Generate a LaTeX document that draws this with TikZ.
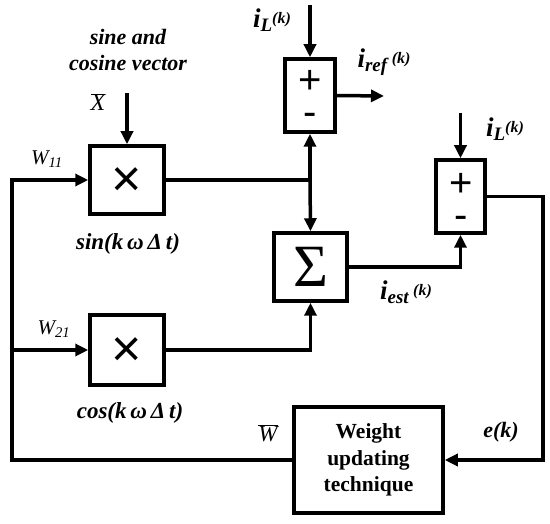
\documentclass[tikz,border=0pt]{standalone}
\usepackage{fontspec}
\setmainfont{Liberation Serif}
\newfontfamily\sansf{Liberation Sans}
\usetikzlibrary{arrows.meta}
\tikzset{
  blk/.style={draw, line width=3.5pt, rectangle, inner sep=0pt},
  wire/.style={line width=3.5pt},
  arr/.style={line width=3.5pt, -{Triangle[length=13pt,width=12pt]}},
  lbl/.style={inner sep=0pt, font=\fontsize{22}{26}\selectfont\bfseries\itshape},
  sym/.style={inner sep=0pt, align=center, font=\sansf\fontsize{40}{32}\selectfont},
  ilbl/.style={inner sep=0pt, font=\fontsize{27}{27}\selectfont\bfseries\itshape},
  times/.style={inner sep=0pt, font=\sansf\fontsize{52}{52}\selectfont},
}
\newcommand{\subL}[1]{\raisebox{-0.3ex}{\fontsize{19}{19}\selectfont #1}}
\newcommand{\supK}{\raisebox{0.3ex}{\fontsize{16}{16}\selectfont(k)}}
\begin{document}
\begin{tikzpicture}[x=1pt,y=-1pt]
\useasboundingbox (0,0) rectangle (550,524);
% blocks
\node[blk, minimum width=74pt, minimum height=68pt] (mulS) at (127,180) {};
\node[blk, minimum width=74pt, minimum height=70pt] (mulC) at (127,350) {};
\node[blk, minimum width=50pt, minimum height=73pt] (sumT) at (310,95.5) {};
\node[blk, minimum width=73pt, minimum height=68pt] (sig) at (310.5,267) {};
\node[blk, minimum width=49pt, minimum height=73pt] (sumR) at (460.5,196.5) {};
\node[blk, minimum width=149pt, minimum height=106pt, align=center,
      font=\fontsize{21.5}{26.5}\selectfont\bfseries] (wu) at (368.5,460)
      {Weight\\updating\\technique};
% symbols inside blocks
\node[times] (xs) at (127,182) {×};
\node[times] (xc) at (127,352) {×};
\node[sym] (pmT) at (310,98) {+\\-};
\node[sym] (pmR) at (461,201) {+\\-};
\node[inner sep=0pt, font=\fontsize{60}{60}\selectfont] (sg) at (310.5,267) {Σ};
% coordinates
\coordinate (xin) at (127,93);
\coordinate (fb1) at (12,180);
\coordinate (fb2) at (12,350);
\coordinate (jn) at (310,180);
\coordinate (iLt) at (310,5);
\coordinate (iref) at (384,96);
\coordinate (iLr) at (460.5,113);
\coordinate (eR) at (543,196.5);
% connectors
\draw[arr] (xin) -- (mulS.north);
\draw[arr] (wu.west) -| (fb1) -- (mulS.west);
\draw[arr] (fb2) -- (mulC.west);
\draw[wire] (mulS.east) -- (jn);
\draw[arr] (jn) -- (sumT.south);
\draw[arr] (jn) -- (sig.north);
\draw[arr] (mulC.east) -| (sig.south);
\draw[arr] (iLt) -- (sumT.north);
\draw[arr] (sumT.east) -- (iref);
\draw[arr] (sig.east) -| (sumR.south);
\draw[arr] (iLr) -- (sumR.north);
\draw[arr] (sumR.east) -- (eR) |- (wu.east);
% labels
\node[lbl, align=center] (tsc) at (128,50) {sine and\\cosine vector};
\node[inner sep=0pt, font=\fontsize{24}{24}\selectfont\itshape] (tX) at (98,102) {$\overline{\mbox{\itshape X}}$};
\node[inner sep=0pt, font=\fontsize{21}{21}\selectfont\itshape] (tW11) at (47,159) {W\textsubscript{11}};
\node[inner sep=0pt, font=\fontsize{21}{21}\selectfont\itshape] (tW21) at (54,329) {W\textsubscript{21}};
\node[lbl, font=\fontsize{23}{23}\selectfont\bfseries\itshape] (tsin) at (128,244) {sin(k\,ω\,Δ\,t)};
\node[lbl, font=\fontsize{23}{23}\selectfont\bfseries\itshape] (tcos) at (130,413) {cos(k\,ω\,Δ\,t)};
\node[ilbl] (tiL) at (272,20) {i\subL{L}\supK};
\node[ilbl] (tiref) at (384,62) {i\subL{ref}\,\supK};
\node[ilbl] (tiL2) at (505,129) {i\subL{L}\supK};
\node[ilbl] (tiest) at (406,292) {i\subL{est}\,\supK};
\node[lbl] (tek) at (501,432) {e(k)};
\node[inner sep=0pt, font=\fontsize{23}{23}\selectfont\itshape] (tWb) at (268,433) {$\overline{\mbox{\itshape W}}$};
\end{tikzpicture}
\end{document}
